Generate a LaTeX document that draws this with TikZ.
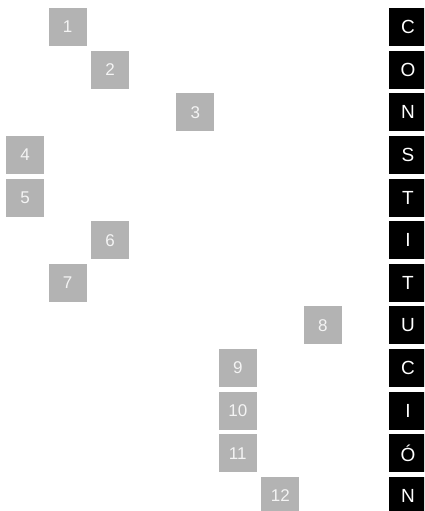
\documentclass[tikz,border=0pt]{standalone}
\usepackage{fontspec}
\setmainfont{Liberation Sans}
\definecolor{boxgrey}{HTML}{B3B3B3}
\definecolor{numwhite}{HTML}{F4F4F4}
\begin{document}
\begin{tikzpicture}[x=1pt,y=-1pt,
  numbox/.style={fill=boxgrey,draw=none,minimum size=38pt,inner sep=0pt,
    text=numwhite,font=\fontsize{17}{20}\selectfont},
  letbox/.style={fill=black,draw=none,minimum size=38pt,inner sep=0pt,
    text=white,font=\fontsize{19}{22}\selectfont}]
\useasboundingbox (0,0) rectangle (424,511);
\clip (0,0) rectangle (424,511);
\def\cx#1{25+42.56*#1}
\def\ry#1{27+42.64*#1}
% numbered grey boxes
\node[numbox] (n1)  at ({\cx{1}},{\ry{0}}) {1};
\node[numbox] (n2)  at ({\cx{2}},{\ry{1}}) {2};
\node[numbox] (n3)  at ({\cx{4}},{\ry{2}}) {3};
\node[numbox] (n4)  at ({\cx{0}},{\ry{3}}) {4};
\node[numbox] (n5)  at ({\cx{0}},{\ry{4}}) {5};
\node[numbox] (n6)  at ({\cx{2}},{\ry{5}}) {6};
\node[numbox] (n7)  at ({\cx{1}},{\ry{6}}) {7};
\node[numbox] (n8)  at ({\cx{7}},{\ry{7}}) {8};
\node[numbox] (n9)  at ({\cx{5}},{\ry{8}}) {9};
\node[numbox] (n10) at ({\cx{5}},{\ry{9}}) {10};
\node[numbox] (n11) at ({\cx{5}},{\ry{10}}) {11};
\node[numbox] (n12) at ({\cx{6}},{\ry{11}}) {12};
% letter column
\node[letbox] (l1)  at ({\cx{9}},{\ry{0}}) {C};
\node[letbox] (l2)  at ({\cx{9}},{\ry{1}}) {O};
\node[letbox] (l3)  at ({\cx{9}},{\ry{2}}) {N};
\node[letbox] (l4)  at ({\cx{9}},{\ry{3}}) {S};
\node[letbox] (l5)  at ({\cx{9}},{\ry{4}}) {T};
\node[letbox] (l6)  at ({\cx{9}},{\ry{5}}) {I};
\node[letbox] (l7)  at ({\cx{9}},{\ry{6}}) {T};
\node[letbox] (l8)  at ({\cx{9}},{\ry{7}}) {U};
\node[letbox] (l9)  at ({\cx{9}},{\ry{8}}) {C};
\node[letbox] (l10) at ({\cx{9}},{\ry{9}}) {I};
\node[letbox] (l11) at ({\cx{9}},{\ry{10}}) {Ó};
\node[letbox] (l12) at ({\cx{9}},{\ry{11}}) {N};
\end{tikzpicture}
\end{document}
